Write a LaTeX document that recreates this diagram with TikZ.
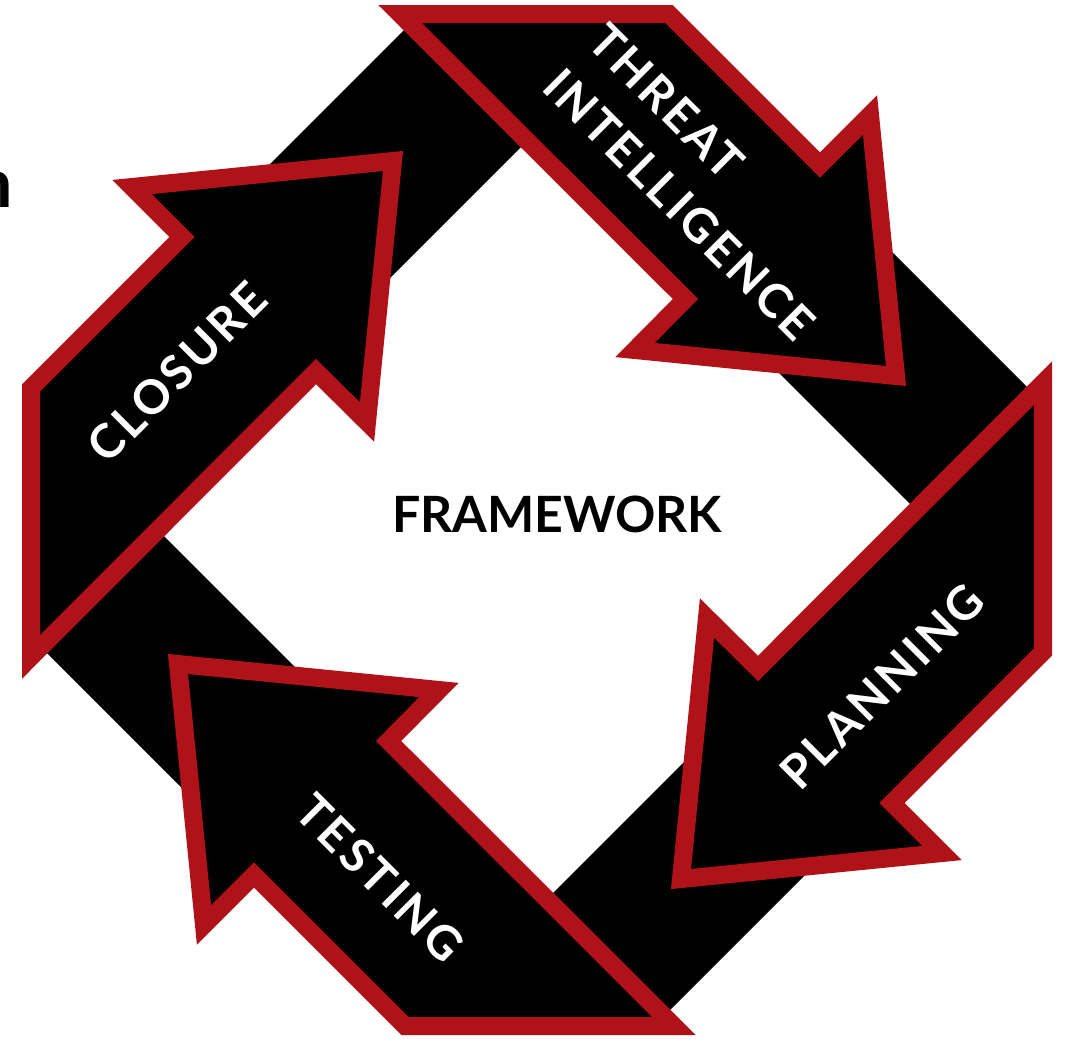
\documentclass[tikz,border=0pt]{standalone}
\usepackage{fontspec}
\setmainfont{Lato}
\newfontfamily\labelfont[LetterSpace=7]{Lato}
\definecolor{arrowred}{RGB}{175,18,25}
\begin{document}
\begin{tikzpicture}[x=1pt,y=1pt,
  cyclearrow/.style={draw=arrowred, fill=black, line width=18pt, line join=miter, miter limit=10},
  ringband/.style={fill=black, even odd rule},
  arrowlabel/.style={text=white, font=\labelfont\fontsize{47}{64}\selectfont\bfseries, inner sep=0pt, align=left},
  centrelabel/.style={text=black, font=\fontsize{50}{60}\selectfont\bfseries, inner sep=0pt},
]
\useasboundingbox (0,-1039) rectangle (1069,0);
\clip (0,-1039) rectangle (1069,0);
\coordinate (C) at (537,-520);
% black square ring behind the arrows
\begin{scope}[shift={(C)}]
  \clip (-506,-506) rectangle (506,506);
  \fill[ringband] (0,623) -- (623,0) -- (0,-623) -- (-623,0) -- cycle
                  (0,389) -- (389,0) -- (0,-389) -- (-389,0) -- cycle;
\end{scope}
% four arrows, each a quarter turn from the previous one
\foreach \ang in {0,-90,-180,-270} {
  \begin{scope}[shift={(C)}, rotate=\ang]
    \draw[cyclearrow] (-137,506) -- (132,506) -- (283,355) -- (333,405)
      -- (359,144) -- (98,170) -- (148.5,221) -- cycle;
  \end{scope}
}
% labels
\node[arrowlabel, rotate=-45] (threat) at (702,-182) {THREAT\\INTELLIGENCE};
\node[arrowlabel, rotate=45] (closure) at (177,-372) {CLOSURE};
\node[arrowlabel, rotate=45] (planning) at (882,-686) {PLANNING};
\node[arrowlabel, rotate=-45] (testing) at (380,-878) {TESTING};
\node[centrelabel] (framework) at (557,-514.5) {FRAMEWORK};
\node[text=black, font=\fontsize{68}{80}\selectfont\bfseries, inner sep=0pt, anchor=base east] (edgeglyph) at (13,-207) {n};
\end{tikzpicture}
\end{document}
